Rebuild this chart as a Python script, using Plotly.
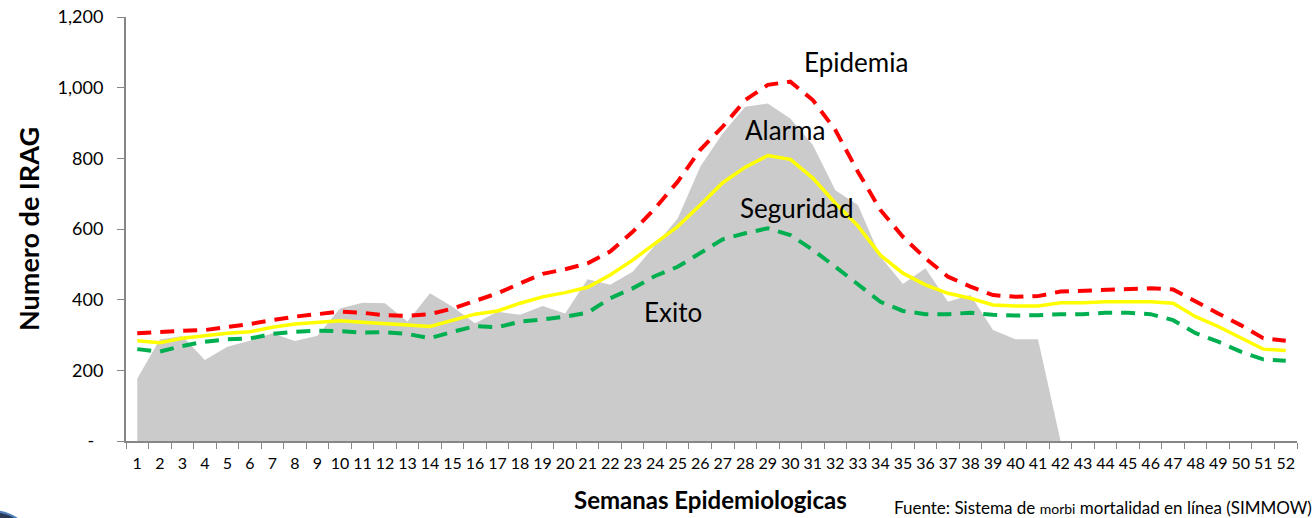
import plotly.graph_objects as go

weeks = [str(w) for w in range(1, 53)]

# casos observados (area gris), semanas 1-42
casos = [177, 287, 297, 229, 267, 284, 305, 283, 298, 375,
         391, 390, 338, 418, 380, 333, 366, 357, 382, 361,
         458, 442, 479, 555, 630, 776, 871, 946, 955, 913,
         838, 710, 668, 522, 444, 489, 394, 413, 314, 288,
         288, 0]

epidemia = [305, 309, 312, 314, 322, 331, 342, 352, 359, 366,
            363, 356, 354, 359, 375, 396, 418, 446, 473, 486,
            503, 536, 592, 659, 734, 824, 890, 965, 1008, 1017,
            965, 880, 762, 654, 578, 517, 465, 437, 413, 408,
            410, 423, 425, 427, 429, 432, 429, 394, 361, 328,
            291, 284]

alarma = [284, 278, 291, 298, 305, 309, 322, 331, 336, 340,
          336, 333, 328, 324, 342, 359, 368, 390, 408, 420,
          435, 470, 512, 560, 607, 668, 731, 775, 808, 797,
          744, 673, 609, 526, 475, 442, 418, 404, 385, 382,
          382, 391, 391, 394, 394, 394, 390, 352, 324, 291,
          260, 256]

seguridad = [260, 253, 269, 281, 288, 290, 303, 309, 312, 311,
             307, 308, 303, 291, 309, 325, 322, 338, 344, 352,
             363, 404, 432, 467, 493, 531, 571, 588, 602, 583,
             541, 493, 442, 394, 368, 359, 359, 363, 357, 355,
             356, 359, 359, 363, 363, 359, 342, 305, 281, 253,
             231, 227]

y_ticks = [0, 200, 400, 600, 800, 1000, 1200]
y_labels = ["-\u00a0\u00a0", "200", "400", "600", "800", "1,000", "1,200"]

FONT = "Lato"

fig = go.Figure()
fig.add_trace(
    go.Scatter(
        x=weeks[: len(casos)],
        y=casos,
        mode="lines",
        fill="tozeroy",
        fillcolor="#CBCBCB",
        line=dict(width=0, color="#CBCBCB"),
        name="Casos",
    )
)
fig.add_trace(
    go.Scatter(
        x=weeks, y=epidemia, mode="lines", name="Epidemia",
        line=dict(color="#FF0000", width=4, dash="14px,9px"),
    )
)
fig.add_trace(
    go.Scatter(
        x=weeks, y=alarma, mode="lines", name="Alarma",
        line=dict(color="#FFFF00", width=3.5),
    )
)
fig.add_trace(
    go.Scatter(
        x=weeks, y=seguridad, mode="lines", name="Seguridad",
        line=dict(color="#00B050", width=4, dash="14px,9px"),
    )
)

# etiquetas de los umbrales (x = indice de categoria)
labels = [
    ("Epidemia", 31.93, 1073),
    ("Alarma", 28.78, 880),
    ("Seguridad", 29.31, 660),
    ("Exito", 23.8, 365),
]
for text, xi, yv in labels:
    fig.add_annotation(
        x=xi, y=yv, text=text, showarrow=False,
        font=dict(family=FONT, size=26, color="#000000"),
    )

fig.add_annotation(
    xref="paper", yref="paper", x=0.4995, y=-0.139,
    xanchor="center", yanchor="middle",
    text="<b>Semanas Epidemiologicas</b>", showarrow=False,
    font=dict(family=FONT, size=24, color="#000000"),
)
fig.add_annotation(
    xref="paper", yref="paper", x=1.0145, y=-0.158,
    xanchor="right", yanchor="middle",
    text="Fuente: Sistema de <span style='font-size:14px'>morbi</span> mortalidad en línea (SIMMOW)",
    showarrow=False,
    font=dict(family=FONT, size=17, color="#000000"),
)

# trozo del logo en la esquina inferior izquierda
fig.add_shape(
    type="circle", xref="paper", yref="paper",
    x0=-0.159, x1=-0.073, y0=-0.401, y1=-0.165,
    fillcolor="#2B3A55", line=dict(color="#4F81BD", width=2),
    layer="below",
)

fig.update_xaxes(
    type="category",
    range=[-0.5, 51.5],
    tickson="boundaries",
    ticks="outside",
    ticklen=6,
    tickcolor="#868686",
    tickangle=0,
    showline=True,
    linecolor="#868686",
    linewidth=2,
    showgrid=False,
    automargin=False,
    tickfont=dict(family=FONT, size=16, color="#000000"),
    ticklabelstandoff=7,
)
fig.update_yaxes(
    range=[0, 1200],
    tickvals=y_ticks,
    ticktext=y_labels,
    ticks="outside",
    ticklen=7,
    tickcolor="#868686",
    showline=True,
    linecolor="#868686",
    linewidth=2,
    showgrid=False,
    zeroline=False,
    automargin=False,
    tickfont=dict(family=FONT, size=18, color="#000000"),
    ticklabelstandoff=10,
    title=dict(
        text="<b>Numero de IRAG</b>",
        font=dict(family=FONT, size=27, color="#000000"),
        standoff=10,
    ),
)

fig.update_layout(
    width=1316,
    height=518,
    showlegend=False,
    autosize=False,
    plot_bgcolor="white",
    paper_bgcolor="white",
    margin={"l": 126, "r": 19, "t": 17, "b": 77},
)

fig.write_html(
    "out.html",
    config={"displayModeBar": False},
    post_script="document.body.style.margin='0';",
)
